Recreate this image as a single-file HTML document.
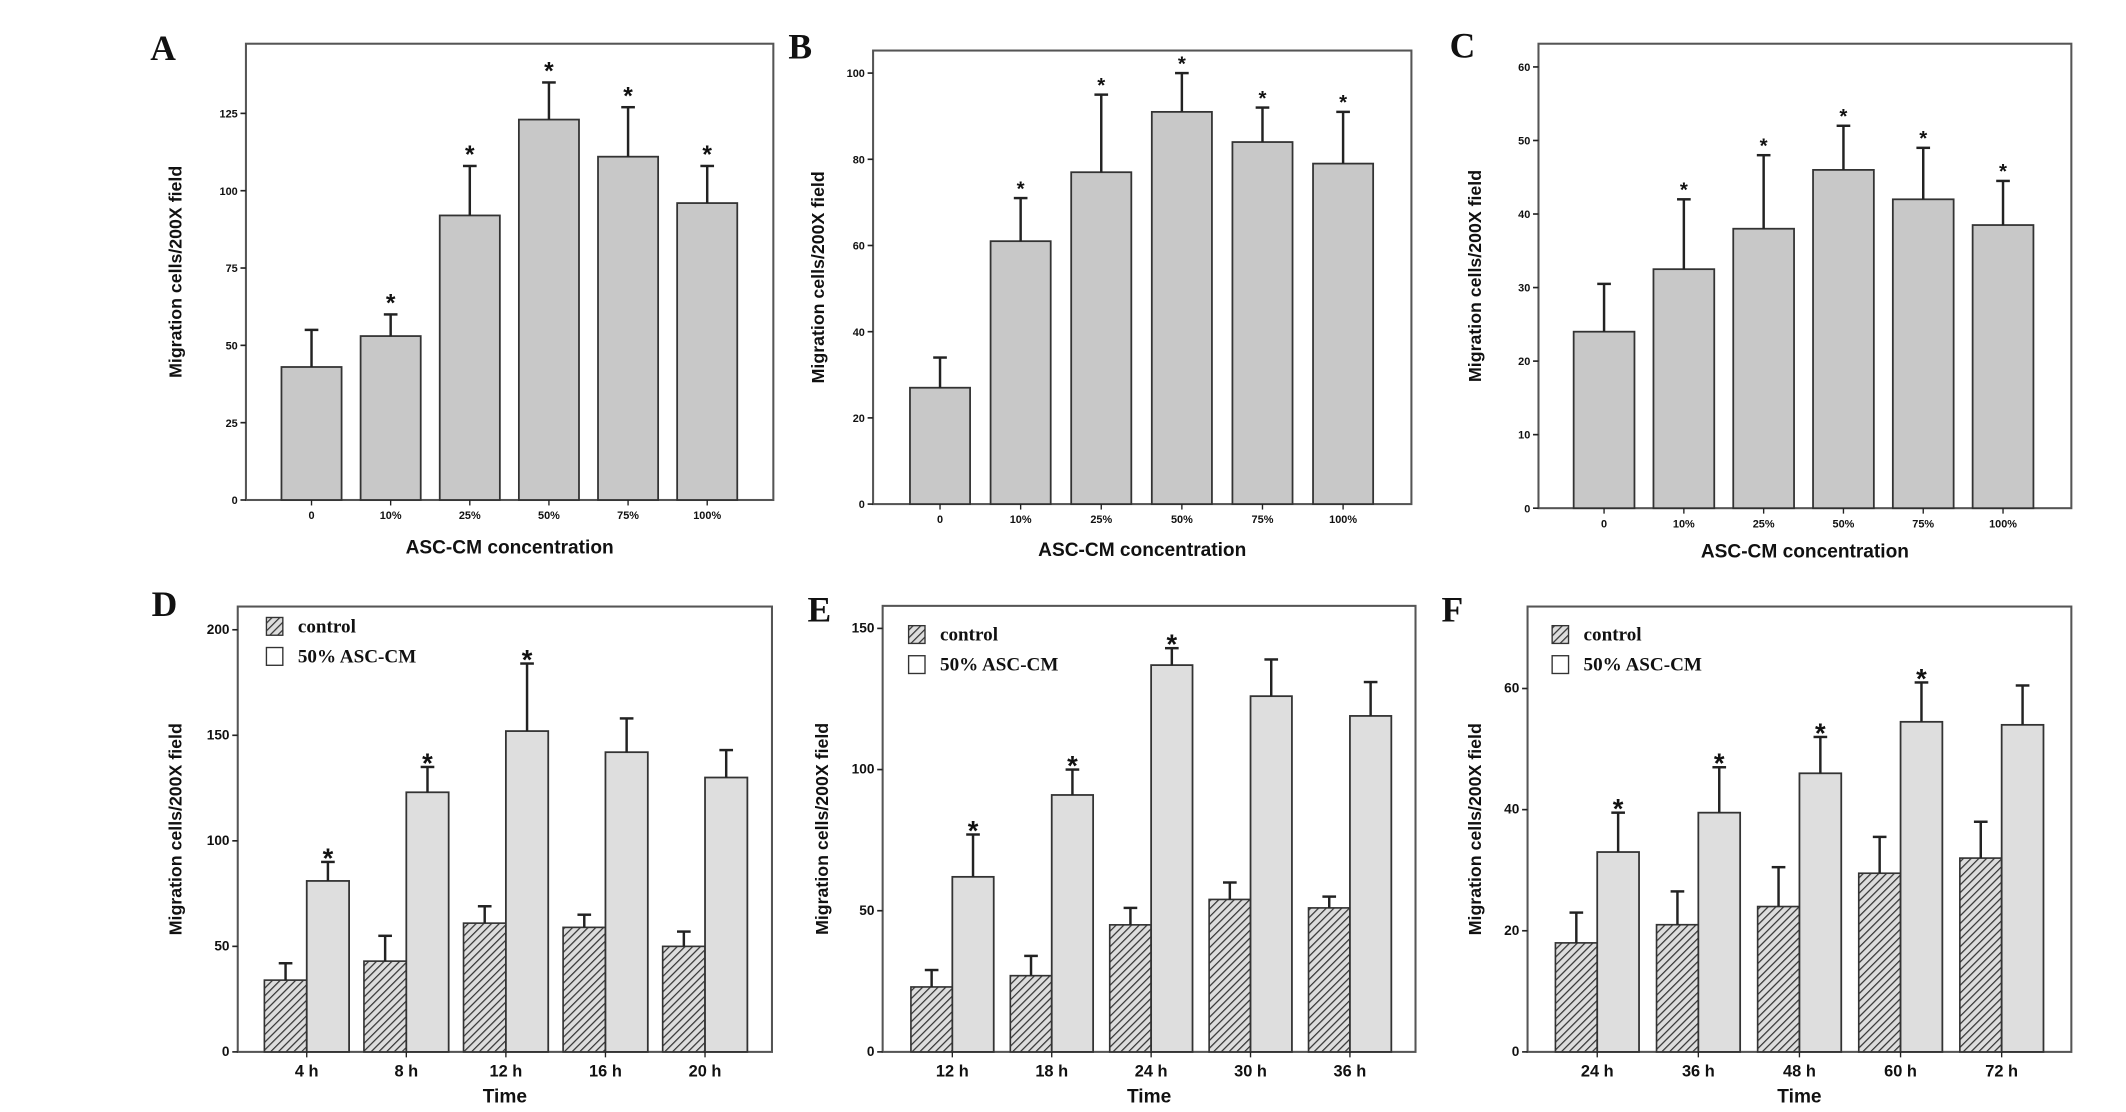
<!DOCTYPE html>
<html><head><meta charset="utf-8">
<style>
html,body{margin:0;padding:0;background:#fff;}
svg{display:block;}
text{font-family:"Liberation Sans",Arial,sans-serif;font-weight:bold;fill:#111;}
.pl{font-family:"Liberation Serif",serif;font-size:26px;font-weight:bold;}
.lg{font-family:"Liberation Serif",serif;font-size:14px;font-weight:bold;}
</style></head>
<body>
<svg id="fig" width="2126" height="1112" viewBox="0 0 1556 814" preserveAspectRatio="none" xmlns="http://www.w3.org/2000/svg">
<defs>
<pattern id="hatch" patternUnits="userSpaceOnUse" width="4" height="4" patternTransform="rotate(45)">
<rect width="4" height="4" fill="#ddd"/><line x1="0" y1="0" x2="0" y2="4" stroke="#333" stroke-width="1.8"/>
</pattern>
</defs>
</svg>
<script>
// Panel A
const catsA=["0","10%","25%","50%","75%","100%"];
const valsA=[43,53,92,123,111,96];
const errA=[55,60,108,135,127,108];
const ticksA=[0,25,50,75,100,125];
// Panel B
const catsB=["0","10%","25%","50%","75%","100%"];
const valsB=[27,61,77,91,84,79];
const errB=[34,71,95,100,92,91];
const ticksB=[0,20,40,60,80,100];
// Panel C
const catsC=["0","10%","25%","50%","75%","100%"];
const valsC=[24,32.5,38,46,42,38.5];
const errC=[30.5,42,48,52,49,44.5];
const ticksC=[0,10,20,30,40,50,60];
// Panel D
const catsD=["4 h","8 h","12 h","16 h","20 h"];
const ctrlD=[34,43,61,59,50];
const ctrlErrD=[42,55,69,65,57];
const ascD=[81,123,152,142,130];
const ascErrD=[90,135,184,158,143];
const starsD=[1,1,1,0,0];
const ticksD=[0,50,100,150,200];
// Panel E
const catsE=["12 h","18 h","24 h","30 h","36 h"];
const ctrlE=[23,27,45,54,51];
const ctrlErrE=[29,34,51,60,55];
const ascE=[62,91,137,126,119];
const ascErrE=[77,100,143,139,131];
const starsE=[1,1,1,0,0];
const ticksE=[0,50,100,150];
// Panel F
const catsF=["24 h","36 h","48 h","60 h","72 h"];
const ctrlF=[18,21,24,29.5,32];
const ctrlErrF=[23,26.5,30.5,35.5,38];
const ascF=[33,39.5,46,54.5,54];
const ascErrF=[39.5,47,52,61,60.5];
const starsF=[1,1,1,1,0];
const ticksF=[0,20,40,60];

const svg=document.getElementById('fig');
const NS="http://www.w3.org/2000/svg";
function mk(tag,attrs,parent){const e=document.createElementNS(NS,tag);for(const k in attrs)e.setAttribute(k,attrs[k]);(parent||svg).appendChild(e);return e;}
function txt(s,attrs,parent){const e=mk('text',attrs,parent);e.textContent=s;return e;}

function frame(p){
  const g=mk('g',{});
  
  
  const pl=txt(p.id,{x:p.lx,y:p.ly,class:'pl'},g);
  
  
  const fr=mk('rect',{x:p.x0,y:p.y1,width:p.x1-p.x0,height:p.y0-p.y1,fill:'none',stroke:'#555','stroke-width':1.5},g);
  
  
  const ys=v=>p.y0-(v/p.max)*(p.y0-p.ytop);
  p.ticks.forEach(t=>{
    mk('line',{x1:p.x0-4,x2:p.x0,y1:ys(t),y2:ys(t),stroke:'#222','stroke-width':1.2},g);
    const tl=txt(String(t),{x:p.x0-6,y:ys(t)+3,'font-size':p.tfs,'text-anchor':'end'},g);
    
    
  });
  const yt=txt('Migration cells/200X field',{x:0,y:0,'font-size':13,'text-anchor':'middle',transform:`translate(${p.ytx},${(p.y0+p.y1)/2}) rotate(-90)`},g);
  
  
  const xt=txt(p.xtitle,{x:(p.x0+p.x1)/2,y:p.y0+p.xty,'font-size':14,'text-anchor':'middle'},g);
  
  
  return {g,ys};
}
function errbar(g,x,y,ytop){
  mk('line',{x1:x,x2:x,y1:y,y2:ytop,stroke:'#222','stroke-width':1.8},g);
  mk('line',{x1:x-5,x2:x+5,y1:ytop,y2:ytop,stroke:'#222','stroke-width':1.8},g);
}
function star(g,x,y,fs){const s=txt('*',{x:x,y:y,'font-size':fs,'text-anchor':'middle'},g);
  
  }

function single(p,cats,vals,errs){
  const {g,ys}=frame(p);
  const n=cats.length, step=(p.xe-p.xs)/(n-1);
  cats.forEach((c,i)=>{
    const cx=p.xs+i*step;
    const b=mk('rect',{x:cx-p.bw/2,y:ys(vals[i]),width:p.bw,height:p.y0-ys(vals[i]),fill:'#c8c8c8',stroke:'#333','stroke-width':1.3},g);
    
    
    errbar(g,cx,ys(vals[i]),ys(errs[i]));
    if(i>0) star(g,cx,ys(errs[i])-2,p.sfs);
    mk('line',{x1:cx,x2:cx,y1:p.y0,y2:p.y0+4,stroke:'#222'},g);
    const l=txt(c,{x:cx,y:p.y0+14,'font-size':8,'text-anchor':'middle'},g);
    
    
  });
}
function grouped(p,cats,c,ce,a,ae,stars){
  const {g,ys}=frame(p);
  const n=cats.length, step=(p.xe-p.xs)/(n-1), bw=p.bw;
  cats.forEach((cat,i)=>{
    const cx=p.xs+i*step;
    const b1=mk('rect',{x:cx-bw,y:ys(c[i]),width:bw,height:p.y0-ys(c[i]),fill:'url(#hatch)',stroke:'#333','stroke-width':1.2},g);
    
    
    const b2=mk('rect',{x:cx,y:ys(a[i]),width:bw,height:p.y0-ys(a[i]),fill:'#dedede',stroke:'#333','stroke-width':1.3},g);
    
    
    errbar(g,cx-bw/2,ys(c[i]),ys(ce[i]));
    errbar(g,cx+bw/2,ys(a[i]),ys(ae[i]));
    if(stars[i]) star(g,cx+bw/2,ys(ae[i])+4,p.sfs);
    mk('line',{x1:cx,x2:cx,y1:p.y0,y2:p.y0+4,stroke:'#222'},g);
    const l=txt(cat,{x:cx,y:p.y0+18,'font-size':12,'text-anchor':'middle'},g);
    
    
  });
  const lx=p.lgx, ly=p.lgy;
  const lg=mk('g',{},g);
  
  
  mk('rect',{x:lx,y:ly,width:12,height:13,fill:'url(#hatch)',stroke:'#333'},lg);
  const t1=txt('control',{x:lx+23,y:ly+11,class:'lg'},lg);
  
  
  mk('rect',{x:lx,y:ly+22,width:12,height:13,fill:'#fff',stroke:'#333'},lg);
  const t2=txt('50% ASC-CM',{x:lx+23,y:ly+33,class:'lg'},lg);
  
  
}
const xt1='ASC-CM concentration', xt2='Time';
single({id:'A',lx:110,ly:44,x0:180,x1:566,y0:366,y1:32,ytop:83,max:125,ticks:ticksA,tfs:8,xtitle:xt1,xty:39,ytx:133,xs:228,xe:517.6,bw:44,sfs:18},catsA,valsA,errA);
single({id:'B',lx:577,ly:43,x0:639,x1:1033,y0:369,y1:37,ytop:53.5,max:100,ticks:ticksB,tfs:8,xtitle:xt1,xty:38,ytx:603,xs:688,xe:983,bw:44,sfs:15},catsB,valsB,errB);
single({id:'C',lx:1061,ly:42,x0:1126,x1:1516,y0:372,y1:32,ytop:49,max:60,ticks:ticksC,tfs:8,xtitle:xt1,xty:36,ytx:1084,xs:1174,xe:1466,bw:44.5,sfs:15},catsC,valsC,errC);
grouped({id:'D',lx:111,ly:451,x0:174,x1:565,y0:770,y1:444,ytop:461,max:200,ticks:ticksD,tfs:10,xtitle:xt2,xty:37,ytx:133,xs:224.5,xe:516,bw:31,sfs:20,lgx:195,lgy:452},catsD,ctrlD,ctrlErrD,ascD,ascErrD,starsD);
grouped({id:'E',lx:591,ly:455,x0:646,x1:1036,y0:770,y1:443.5,ytop:460,max:150,ticks:ticksE,tfs:10,xtitle:xt2,xty:37,ytx:606,xs:697,xe:988,bw:30.3,sfs:20,lgx:665,lgy:458},catsE,ctrlE,ctrlErrE,ascE,ascErrE,starsE);
grouped({id:'F',lx:1055,ly:455,x0:1118,x1:1516,y0:770,y1:444,ytop:504,max:60,ticks:ticksF,tfs:10,xtitle:xt2,xty:37,ytx:1084,xs:1169,xe:1465,bw:30.6,sfs:20,lgx:1136,lgy:458},catsF,ctrlF,ctrlErrF,ascF,ascErrF,starsF);
</script>
</body></html>
